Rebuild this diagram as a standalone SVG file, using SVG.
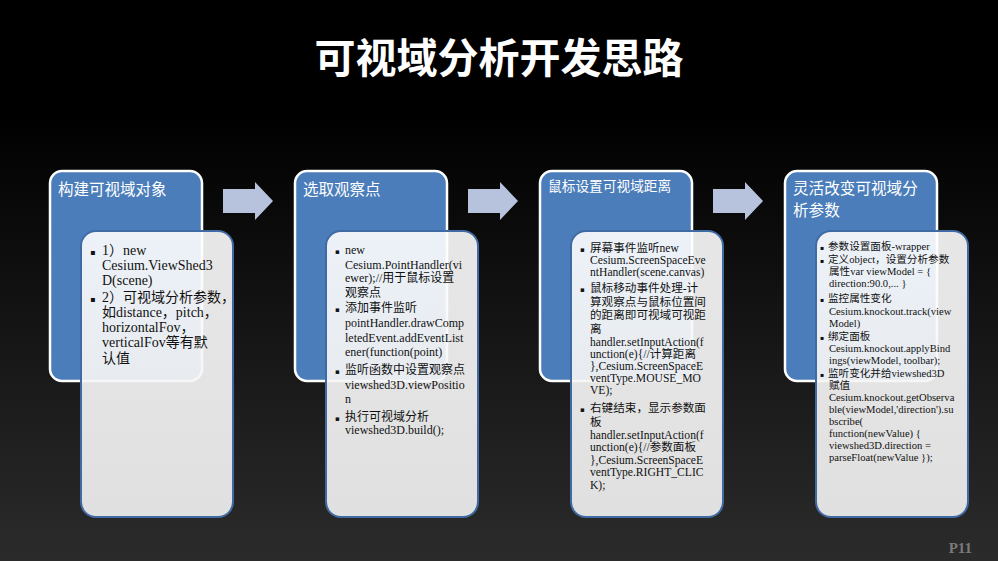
<svg xmlns="http://www.w3.org/2000/svg" width="998" height="561" viewBox="0 0 998 561">
<defs>
<linearGradient id="bg" x1="0" y1="0" x2="0" y2="1">
<stop offset="0" stop-color="#000"/>
<stop offset="0.2" stop-color="#000"/>
<stop offset="1" stop-color="#2b2b2b"/>
</linearGradient>
<linearGradient id="inner" x1="0" y1="0" x2="0" y2="1">
<stop offset="0" stop-color="#ffffff" stop-opacity="0.9"/>
<stop offset="1" stop-color="#ececec" stop-opacity="0.94"/>
</linearGradient>
<path id="arrow" d="M0,7 H32 V0 L50,19 L32,38 V31 H0 Z"/>
</defs>
<style>
.blue{fill:#4a7dba;stroke:#fff;stroke-width:2.5}
.inner{fill:url(#inner);stroke:#3f6aa3;stroke-width:2}
.arr{fill:#b7c3dd}
.hd{font-family:"Noto Sans CJK SC","Noto Sans",sans-serif;fill:#fff}
.bd{font-family:"Liberation Serif","Noto Sans CJK SC",serif;fill:#111}
.b{font-family:"DejaVu Sans",sans-serif}
</style>
<rect width="998" height="561" fill="url(#bg)"/>
<text x="499" y="73" text-anchor="middle" font-family="Noto Sans CJK SC, sans-serif" font-weight="bold" font-size="41" fill="#fff">可视域分析开发思路</text>

<g id="connectors">
<use href="#arrow" x="223" y="182" class="arr"/>
<use href="#arrow" x="468" y="182" class="arr"/>
<use href="#arrow" x="713" y="182" class="arr"/>
</g>

<g id="step1">
<rect class="blue" x="50" y="171" width="152" height="210" rx="12"/>
<text class="hd" x="58" y="195" font-size="15.5">构建可视域对象</text>
<rect class="inner" x="81" y="231" width="152" height="286" rx="15"/>
<text class="bd" font-size="14">
<tspan x="90" y="255" class="b" font-size="8">▪</tspan><tspan x="102" y="255">1）new</tspan>
<tspan x="102" y="270">Cesium.ViewShed3</tspan>
<tspan x="102" y="285">D(scene)</tspan>
<tspan x="90" y="302" class="b" font-size="8">▪</tspan><tspan x="102" y="302">2）可视域分析参数，</tspan>
<tspan x="102" y="317">如distance，pitch，</tspan>
<tspan x="102" y="332">horizontalFov，</tspan>
<tspan x="102" y="347">verticalFov等有默</tspan>
<tspan x="102" y="363">认值</tspan>
</text>
</g>

<g id="step2">
<rect class="blue" x="295" y="171" width="152" height="210" rx="12"/>
<text class="hd" x="303" y="195" font-size="15.5">选取观察点</text>
<rect class="inner" x="326" y="231" width="152" height="286" rx="15"/>
<text class="bd" font-size="12">
<tspan x="335" y="254" class="b" font-size="7">▪</tspan><tspan x="345" y="254">new</tspan>
<tspan x="345" y="269">Cesium.PointHandler(vi</tspan>
<tspan x="345" y="282">ewer);//用于鼠标设置</tspan>
<tspan x="345" y="297">观察点</tspan>
<tspan x="335" y="312" class="b" font-size="7">▪</tspan><tspan x="345" y="312">添加事件监听</tspan>
<tspan x="345" y="327">pointHandler.drawComp</tspan>
<tspan x="345" y="342">letedEvent.addEventList</tspan>
<tspan x="345" y="356">ener(function(point)</tspan>
<tspan x="335" y="374" class="b" font-size="7">▪</tspan><tspan x="345" y="374">监听函数中设置观察点</tspan>
<tspan x="345" y="389">viewshed3D.viewPositio</tspan>
<tspan x="345" y="403">n</tspan>
<tspan x="335" y="421" class="b" font-size="7">▪</tspan><tspan x="345" y="421">执行可视域分析</tspan>
<tspan x="345" y="434">viewshed3D.build();</tspan>
</text>
</g>

<g id="step3">
<rect class="blue" x="540" y="171" width="152" height="210" rx="12"/>
<text class="hd" x="548" y="191" font-size="13.7">鼠标设置可视域距离</text>
<rect class="inner" x="571" y="231" width="152" height="286" rx="15"/>
<text class="bd" font-size="11.6">
<tspan x="580" y="252" class="b" font-size="7">▪</tspan><tspan x="590" y="252">屏幕事件监听new</tspan>
<tspan x="590" y="264">Cesium.ScreenSpaceEve</tspan>
<tspan x="590" y="276">ntHandler(scene.canvas)</tspan>
<tspan x="580" y="292" class="b" font-size="7">▪</tspan><tspan x="590" y="292">鼠标移动事件处理-计</tspan>
<tspan x="590" y="306">算观察点与鼠标位置间</tspan>
<tspan x="590" y="319">的距离即可视域可视距</tspan>
<tspan x="590" y="333">离</tspan>
<tspan x="590" y="346">handler.setInputAction(f</tspan>
<tspan x="590" y="358">unction(e){//计算距离</tspan>
<tspan x="590" y="370">},Cesium.ScreenSpaceE</tspan>
<tspan x="590" y="382">ventType.MOUSE_MO</tspan>
<tspan x="590" y="394">VE);</tspan>
<tspan x="580" y="412" class="b" font-size="7">▪</tspan><tspan x="590" y="412">右键结束，显示参数面</tspan>
<tspan x="590" y="426">板</tspan>
<tspan x="590" y="439">handler.setInputAction(f</tspan>
<tspan x="590" y="451">unction(e){//参数面板</tspan>
<tspan x="590" y="464">},Cesium.ScreenSpaceE</tspan>
<tspan x="590" y="476">ventType.RIGHT_CLIC</tspan>
<tspan x="590" y="489">K);</tspan>
</text>
</g>

<g id="step4">
<rect class="blue" x="785" y="171" width="152" height="210" rx="12"/>
<text class="hd" font-size="15.6"><tspan x="793" y="194">灵活改变可视域分</tspan><tspan x="793" y="216">析参数</tspan></text>
<rect class="inner" x="816" y="231" width="152" height="286" rx="15"/>
<text class="bd" font-size="10.6">
<tspan x="820" y="250" class="b" font-size="6">▪</tspan><tspan x="828" y="250">参数设置面板-wrapper</tspan>
<tspan x="820" y="263" class="b" font-size="6">▪</tspan><tspan x="828" y="263">定义object，设置分析参数</tspan>
<tspan x="829" y="275">属性var viewModel = {</tspan>
<tspan x="829" y="287">direction:90.0,... }</tspan>
<tspan x="820" y="302" class="b" font-size="6">▪</tspan><tspan x="828" y="302">监控属性变化</tspan>
<tspan x="829" y="315">Cesium.knockout.track(view</tspan>
<tspan x="829" y="327">Model)</tspan>
<tspan x="820" y="340" class="b" font-size="6">▪</tspan><tspan x="828" y="340">绑定面板</tspan>
<tspan x="829" y="352">Cesium.knockout.applyBind</tspan>
<tspan x="829" y="364">ings(viewModel, toolbar);</tspan>
<tspan x="820" y="377" class="b" font-size="6">▪</tspan><tspan x="828" y="377">监听变化并给viewshed3D</tspan>
<tspan x="829" y="389">赋值</tspan>
<tspan x="829" y="401">Cesium.knockout.getObserva</tspan>
<tspan x="829" y="413">ble(viewModel,'direction').su</tspan>
<tspan x="829" y="425">bscribe(</tspan>
<tspan x="829" y="437">function(newValue) {</tspan>
<tspan x="829" y="449">viewshed3D.direction =</tspan>
<tspan x="829" y="461">parseFloat(newValue  });</tspan>
</text>
</g>

<text x="972" y="553" text-anchor="end" font-family="Liberation Serif, serif" font-weight="bold" font-size="15" fill="#7a7a7a">P11</text>
</svg>
